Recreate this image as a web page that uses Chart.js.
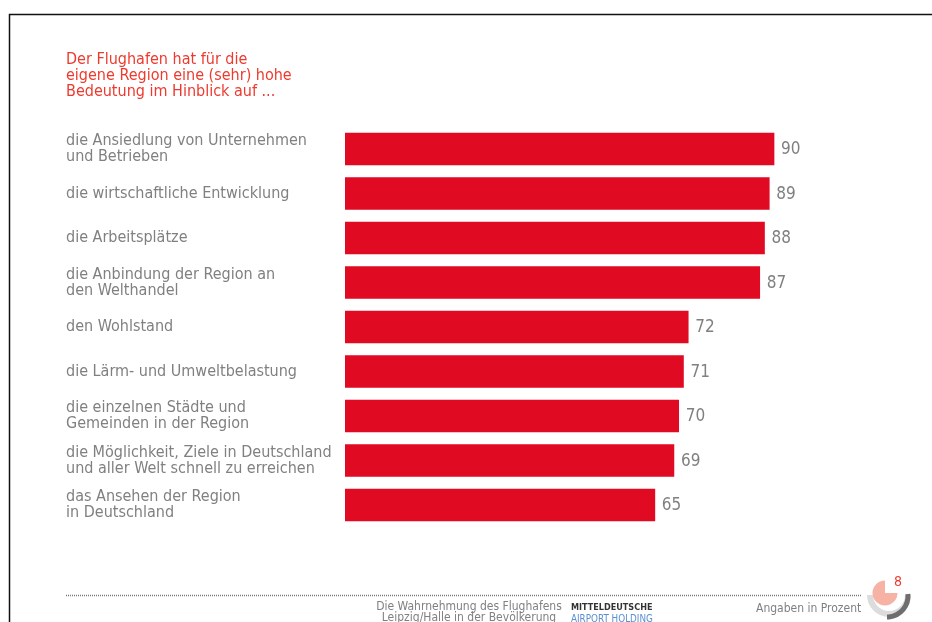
<!DOCTYPE html>
<html lang="de">
<head>
<meta charset="utf-8">
<title>Bedeutung des Flughafens</title>
<script src="https://cdn.jsdelivr.net/npm/chart.js@4/dist/chart.umd.min.js"></script>
<style>
  html, body { margin: 0; padding: 0; background: #fff; overflow: hidden; }
  canvas { display: block; }
</style>
</head>
<body>
<canvas id="chart" width="932" height="622"></canvas>
<script>
const categories = [
  ['die Ansiedlung von Unternehmen', 'und Betrieben'],
  'die wirtschaftliche Entwicklung',
  'die Arbeitsplätze',
  ['die Anbindung der Region an', 'den Welthandel'],
  'den Wohlstand',
  'die Lärm- und Umweltbelastung',
  ['die einzelnen Städte und', 'Gemeinden in der Region'],
  ['die Möglichkeit, Ziele in Deutschland', 'und aller Welt schnell zu erreichen'],
  ['das Ansehen der Region', 'in Deutschland'],
]
const values = [90, 89, 88, 87, 72, 71, 70, 69, 65]
const titleLines = ['Der Flughafen hat für die', 'eigene Region eine (sehr) hohe', 'Bedeutung im Hinblick auf ...']
const footerLines = ['Die Wahrnehmung des Flughafens', 'Leipzig/Halle in der Bevölkerung']

const FONT = "'DejaVu Sans Condensed', 'DejaVu Sans', sans-serif"
const GREY = '#808080'
const RED = '#e00a22'

// Value label at the end of each bar
const valueLabels = {
  id: 'valueLabels',
  afterDatasetsDraw(chart) {
    const ctx = chart.ctx
    ctx.save()
    ctx.font = '17px ' + FONT
    ctx.fillStyle = GREY
    ctx.textBaseline = 'middle'
    chart.getDatasetMeta(0).data.forEach((bar, i) => {
      ctx.fillText(values[i], bar.x + 7, bar.y + 1)
    })
    ctx.restore()
  },
}

// Frame, heading, footer and the page logo around the plot
const slideFrame = {
  id: 'slideFrame',
  beforeDraw(chart) {
    const ctx = chart.ctx
    ctx.save()

    ctx.strokeStyle = '#111'
    ctx.lineWidth = 1.5
    ctx.beginPath()
    ctx.moveTo(9.5, 622)
    ctx.lineTo(9.5, 14.5)
    ctx.lineTo(932, 14.5)
    ctx.stroke()

    ctx.font = '16px ' + FONT
    ctx.fillStyle = '#ee3a2e'
    ctx.textBaseline = 'middle'
    titleLines.forEach((line, i) => ctx.fillText(line, 66, 59.5 + i * 16))

    // dotted footer rule
    ctx.strokeStyle = '#777'
    ctx.lineWidth = 1.5
    ctx.setLineDash([1, 1])
    ctx.beginPath()
    ctx.moveTo(66, 595.5)
    ctx.lineTo(862, 595.5)
    ctx.stroke()
    ctx.setLineDash([])

    ctx.font = '12px ' + FONT
    ctx.fillStyle = GREY
    ctx.textAlign = 'center'
    footerLines.forEach((line, i) => ctx.fillText(line, 469, 606.5 + i * 11.5))
    ctx.textAlign = 'left'
    ctx.fillText('Angaben in Prozent', 756, 608.5)

    ctx.font = 'bold 9px ' + FONT
    ctx.fillStyle = '#333'
    ctx.fillText('MITTELDEUTSCHE', 571, 608)
    ctx.font = '9.8px ' + FONT
    ctx.fillStyle = '#5b8fd0'
    ctx.fillText('AIRPORT HOLDING', 571, 619)

    // logo: pie with a missing quarter over two arcs
    ctx.lineWidth = 6
    ctx.strokeStyle = '#dcdcdc'
    ctx.beginPath()
    ctx.arc(889, 595, 19, 0, Math.PI)
    ctx.stroke()
    ctx.lineWidth = 5
    ctx.strokeStyle = '#6e6e6e'
    ctx.beginPath()
    ctx.arc(887, 596, 21, -Math.PI * 0.03, Math.PI * 0.5)
    ctx.stroke()
    ctx.fillStyle = '#f5b2a5'
    ctx.beginPath()
    ctx.moveTo(885, 593)
    ctx.arc(885, 593, 12.5, 0, Math.PI * 1.5)
    ctx.closePath()
    ctx.fill()

    ctx.font = '14px ' + FONT
    ctx.fillStyle = '#ee3a2e'
    ctx.fillText('8', 894, 582.5)

    ctx.restore()
  },
}

new Chart(document.getElementById('chart'), {
  type: 'bar',
  data: {
    labels: categories,
    datasets: [{
      data: values,
      backgroundColor: RED,
      borderWidth: 0,
      barThickness: 32,
    }],
  },
  options: {
    indexAxis: 'y',
    responsive: false,
    animation: false,
    layout: { padding: { left: 66, right: 110.3, top: 126.75, bottom: 94.75 } },
    plugins: {
      legend: { display: false },
      tooltip: { enabled: false },
    },
    scales: {
      x: { display: false, min: 0, max: 100 },
      y: {
        afterFit: scale => { scale.width = 279 },
        grid: { display: false },
        border: { display: false },
        ticks: {
          crossAlign: 'far',
          color: GREY,
          padding: 0,
          autoSkip: false,
          font: { family: FONT, size: 16, lineHeight: 1 },
        },
      },
    },
  },
  plugins: [slideFrame, valueLabels],
})
</script>
</body>
</html>
